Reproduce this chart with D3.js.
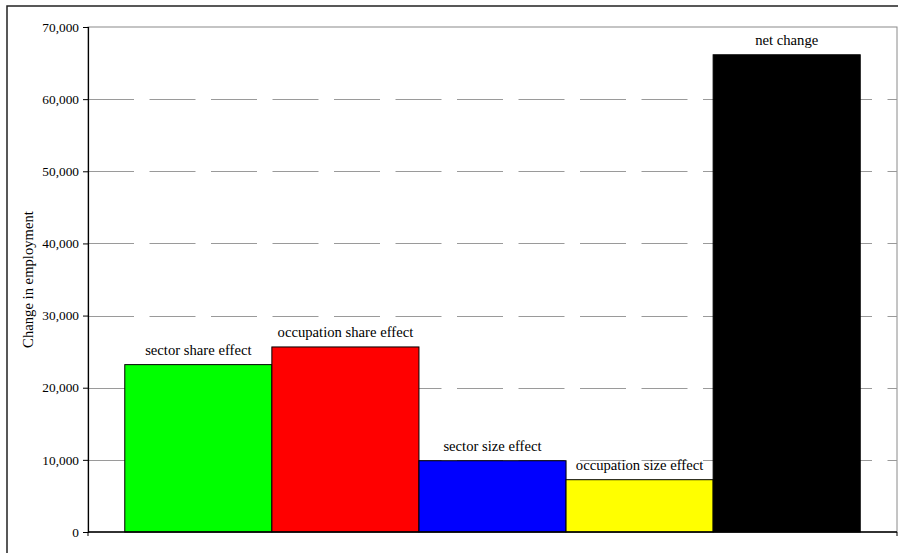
<!DOCTYPE html>
<html>
<head>
<meta charset="utf-8">
<script src="https://cdn.jsdelivr.net/npm/d3@7"></script>
<style>
  html, body { margin: 0; padding: 0; background: #fff; }
  svg { display: block; }
  text { font-family: "Liberation Serif", "Times New Roman", serif; fill: #000; }
</style>
</head>
<body>
<svg id="chart" width="898" height="553"></svg>
<script>
// Decomposition of employment change
const categories = ["sector share effect", "occupation share effect", "sector size effect", "occupation size effect", "net change"];
const values = [23200, 25650, 9880, 7250, 66150];
const barColors = ["#00ff00", "#ff0000", "#0000ff", "#ffff00", "#000000"];
const yTicks = [0, 10000, 20000, 30000, 40000, 50000, 60000, 70000];
const yTitle = "Change in employment";

const svg = d3.select("#chart");
const W = 898, H = 553;
const plot = { left: 88, right: 897, top: 27, bottom: 532 };

// outer chart frame
svg.append("rect")
  .attr("x", 7).attr("y", 6)
  .attr("width", W).attr("height", H)
  .attr("fill", "#fff").attr("stroke", "#222").attr("stroke-width", 1.5);

const x = d3.scaleBand()
  .domain(categories)
  .range([plot.left, plot.right])
  .paddingInner(0)
  .paddingOuter(0.25);

const y = d3.scaleLinear()
  .domain([0, 70000])
  .range([plot.bottom, plot.top]);

// plot area border
svg.append("rect")
  .attr("x", plot.left).attr("y", plot.top)
  .attr("width", plot.right - plot.left).attr("height", plot.bottom - plot.top)
  .attr("fill", "none").attr("stroke", "#8a8a8a").attr("stroke-width", 1);

// dashed gridlines
svg.append("g")
  .selectAll("line")
  .data(yTicks.filter(t => t > 0 && t < 70000))
  .join("line")
  .attr("x1", plot.left).attr("x2", plot.right)
  .attr("y1", d => Math.round(y(d)) + 0.5).attr("y2", d => Math.round(y(d)) + 0.5)
  .attr("stroke", "#9a9a9a").attr("stroke-width", 1)
  .attr("stroke-dasharray", "46,15.5");

// bars
svg.append("g")
  .selectAll("rect")
  .data(categories)
  .join("rect")
  .attr("x", d => x(d))
  .attr("y", (d, i) => y(values[i]))
  .attr("width", x.bandwidth())
  .attr("height", (d, i) => y(0) - y(values[i]))
  .attr("fill", (d, i) => barColors[i])
  .attr("stroke", "#000").attr("stroke-width", 1);

// bar labels
svg.append("g")
  .selectAll("text")
  .data(categories)
  .join("text")
  .attr("x", d => x(d) + x.bandwidth() / 2)
  .attr("y", (d, i) => y(values[i]) - 10)
  .attr("text-anchor", "middle")
  .attr("font-size", 14.67)
  .text(d => d);

// y axis
const yAxis = d3.axisLeft(y)
  .tickValues(yTicks)
  .tickSize(5)
  .tickPadding(4)
  .tickFormat(d3.format(","));
const gy = svg.append("g")
  .attr("transform", `translate(${plot.left},0)`)
  .call(yAxis);
gy.select(".domain").attr("stroke", "#000").attr("stroke-width", 1.2);
gy.selectAll(".tick line").attr("stroke", "#000");
gy.selectAll(".tick text")
  .attr("font-family", "'Liberation Serif', 'Times New Roman', serif")
  .attr("font-size", 13.33).attr("fill", "#000");

// x axis baseline with end ticks
const gx = svg.append("g");
gx.append("line")
  .attr("x1", plot.left).attr("x2", plot.right)
  .attr("y1", y(0)).attr("y2", y(0))
  .attr("stroke", "#000").attr("stroke-width", 1.5);
gx.selectAll("line.end")
  .data([plot.left, plot.right])
  .join("line")
  .attr("class", "end")
  .attr("x1", d => d).attr("x2", d => d)
  .attr("y1", y(0)).attr("y2", y(0) + 4)
  .attr("stroke", "#000").attr("stroke-width", 1);

// y axis title
svg.append("text")
  .attr("transform", `translate(33,${(plot.top + plot.bottom) / 2}) rotate(-90)`)
  .attr("text-anchor", "middle")
  .attr("font-size", 14.67)
  .text(yTitle);
</script>
</body>
</html>
